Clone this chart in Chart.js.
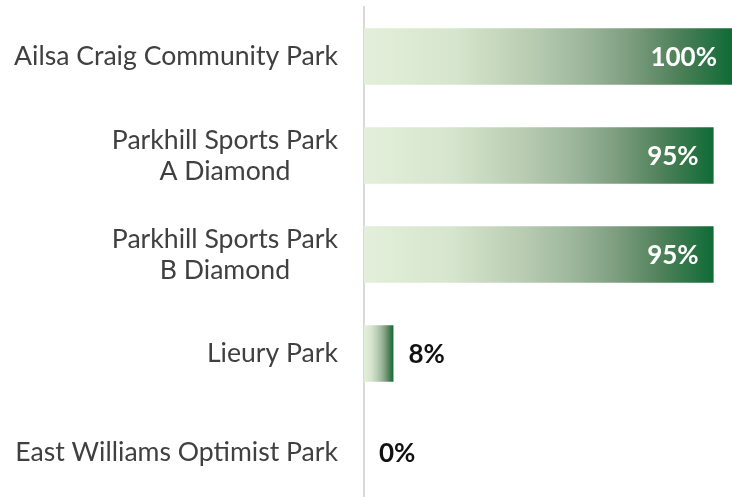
<!DOCTYPE html>
<html>
<head>
<meta charset="utf-8">
<script src="https://cdn.jsdelivr.net/npm/chart.js@4/dist/chart.umd.min.js"></script>
<style>
  html, body { margin: 0; padding: 0; background: #fff; overflow: hidden; }
  #wrap { width: 732px; height: 502px; position: relative; }
</style>
</head>
<body>
<div id="wrap"><canvas id="parkChart"></canvas></div>
<script>
// Park names (multi-line where the name wraps) and their share values
const parks  = [
  ['Ailsa Craig Community Park'],
  ['Parkhill Sports Park', 'A Diamond'],
  ['Parkhill Sports Park', 'B Diamond'],
  ['Lieury Park'],
  ['East Williams Optimist Park'],
];
const shares = [100, 95, 95, 8, 0];

const LABEL_FONT = '26.6px Lato, "Open Sans", sans-serif';
const VALUE_FONT = 'bold 26px Lato, "Open Sans", sans-serif';
const LABEL_RIGHT = 338;
const LINE_HEIGHT = 31;

// light-to-dark green fade, stretched over each bar's own length
const GRADIENT_STOPS = [
  [0.00, '#e3efda'],
  [0.25, '#d6e5cd'],
  [0.45, '#b9cdb3'],
  [0.60, '#9cb69c'],
  [0.72, '#7e9e80'],
  [0.86, '#4c7f57'],
  [1.00, '#0f6b36'],
];

function barGradient(ctx) {
  const chart = ctx.chart;
  const { chartArea, scales } = chart;
  if (!chartArea || !scales.x) return GRADIENT_STOPS[0][1];
  const x0 = scales.x.getPixelForValue(0);
  const x1 = scales.x.getPixelForValue(ctx.raw);
  if (x1 - x0 < 1) return GRADIENT_STOPS[0][1];
  const g = chart.ctx.createLinearGradient(x0, 0, x1, 0);
  GRADIENT_STOPS.forEach(([p, c]) => g.addColorStop(p, c));
  return g;
}

// Category labels: block right-aligned, lines centred within the block
const parkLabelPlugin = {
  id: 'parkLabels',
  afterDraw(chart) {
    const { ctx } = chart;
    const yScale = chart.scales.y;
    ctx.save();
    ctx.font = LABEL_FONT;
    ctx.fillStyle = '#404040';
    ctx.textAlign = 'center';
    ctx.textBaseline = 'middle';
    parks.forEach((lines, i) => {
      const w = Math.max(...lines.map(l => ctx.measureText(l).width));
      const cx = LABEL_RIGHT - w / 2;
      const cy = yScale.getPixelForTick(i);
      const top = cy - (lines.length - 1) * LINE_HEIGHT / 2;
      lines.forEach((l, j) => ctx.fillText(l, cx, top + j * LINE_HEIGHT));
    });
    ctx.restore();
  },
};

// Percent labels: inside the bar in white when it fits, else just past its end
const shareLabelPlugin = {
  id: 'shareLabels',
  afterDatasetsDraw(chart) {
    const { ctx } = chart;
    const meta = chart.getDatasetMeta(0);
    ctx.save();
    ctx.font = VALUE_FONT;
    ctx.textBaseline = 'middle';
    meta.data.forEach((bar, i) => {
      const v = shares[i];
      const txt = v + '%';
      if (v >= 50) {
        ctx.fillStyle = '#ffffff';
        ctx.textAlign = 'right';
        ctx.fillText(txt, bar.x - 15, bar.y + 1);
      } else {
        ctx.fillStyle = '#111111';
        ctx.textAlign = 'left';
        ctx.fillText(txt, bar.x + 15, bar.y + 1);
      }
    });
    ctx.restore();
  },
};

new Chart(document.getElementById('parkChart'), {
  type: 'bar',
  data: {
    labels: parks,
    datasets: [{
      data: shares,
      backgroundColor: barGradient,
      borderWidth: 0,
      categoryPercentage: 1,
      barPercentage: 0.57,
    }],
  },
  plugins: [shareLabelPlugin, parkLabelPlugin],
  options: {
    indexAxis: 'y',
    responsive: true,
    maintainAspectRatio: false,
    animation: false,
    layout: { padding: { top: 7, right: 0, bottom: 0, left: 0 } },
    plugins: { legend: { display: false }, tooltip: { enabled: false } },
    scales: {
      x: {
        display: false,
        min: 0,
        max: 100,
      },
      y: {
        ticks: { display: false },
        grid: { display: false },
        border: { display: true, color: '#d9d9d9', width: 2 },
        afterFit(scale) { scale.width = 364; },
      },
    },
  },
});
</script>
</body>
</html>
